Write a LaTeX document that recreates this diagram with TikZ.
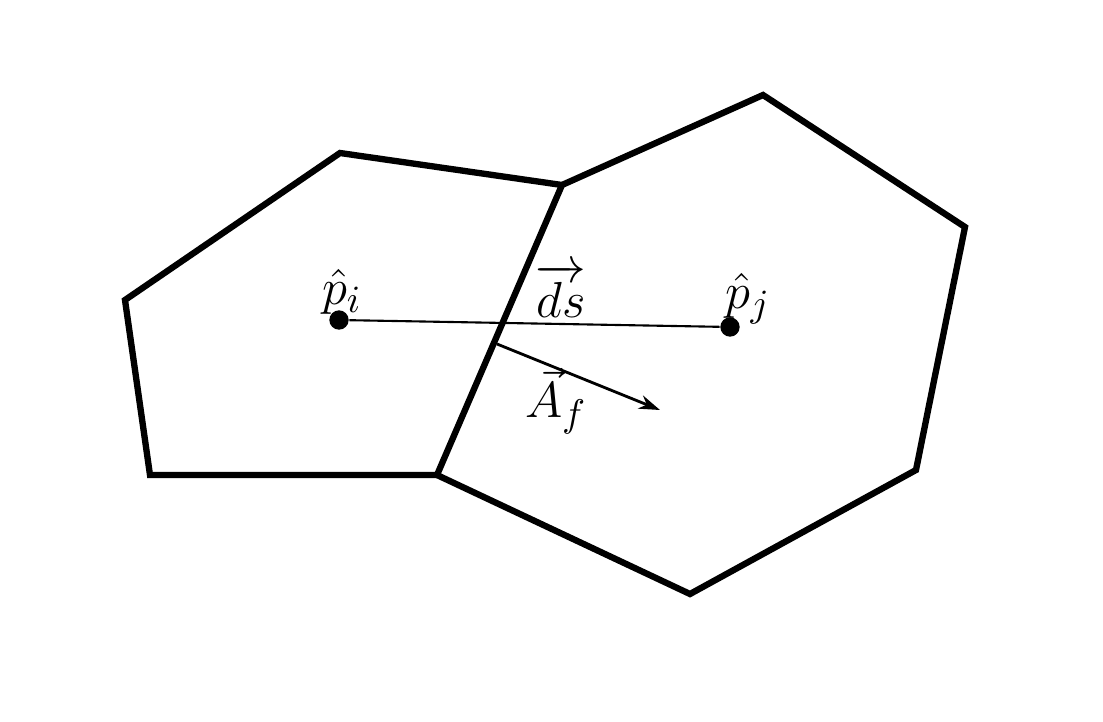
\documentclass[tikz,border=0pt]{standalone}
\usepackage{amsmath}
\usetikzlibrary{arrows.meta,positioning}
\tikzset{
    cellwall/.style={line width=1.8pt, line join=miter},
    centre/.style={circle, fill=black, inner sep=0pt, minimum size=5.5pt},
    lbl/.style={font=\fontsize{15}{17}\selectfont, inner sep=1pt},
}

\begin{document}
\begin{tikzpicture}[x=0.01cm, y=-0.01cm]
    \useasboundingbox (0,0) rectangle (1103,721);

    % vertices of the two cells
    \coordinate (v1) at (340,153);
    \coordinate (v2) at (562,185);
    \coordinate (v3) at (437,475);
    \coordinate (v4) at (150,475);
    \coordinate (v5) at (125,300);
    \coordinate (w1) at (763,95);
    \coordinate (w2) at (965,227);
    \coordinate (w3) at (916,470);
    \coordinate (w4) at (690,594);

    \draw[cellwall] (v2) -- (v1) -- (v5) -- (v4) -- (v3);
    \draw[cellwall] (v2) -- (w1) -- (w2) -- (w3) -- (w4) -- (v3) -- cycle;

    % cell centres
    \node[centre] (pi) at (339,320) {};
    \node[centre] (pj) at (730,327) {};
    \draw[line width=0.6pt] (pi) -- (pj);

    % face normal
    \coordinate (f0) at (497,344);
    \coordinate (f1) at (660,410);
    \draw[line width=0.8pt, -{Stealth[length=6pt,width=4pt]}] (f0) -- (f1);

    \node[lbl] (lpi) at (342,292) {$\hat{p}_i$};
    \node[lbl] (lpj) at (748,299) {$\hat{p}_j$};
    \node[lbl] (lds) at (561,291) {$\overrightarrow{ds}$};
    \node[lbl] (laf) at (556,401) {$\vec{A}_f$};

\end{tikzpicture}
\end{document}
